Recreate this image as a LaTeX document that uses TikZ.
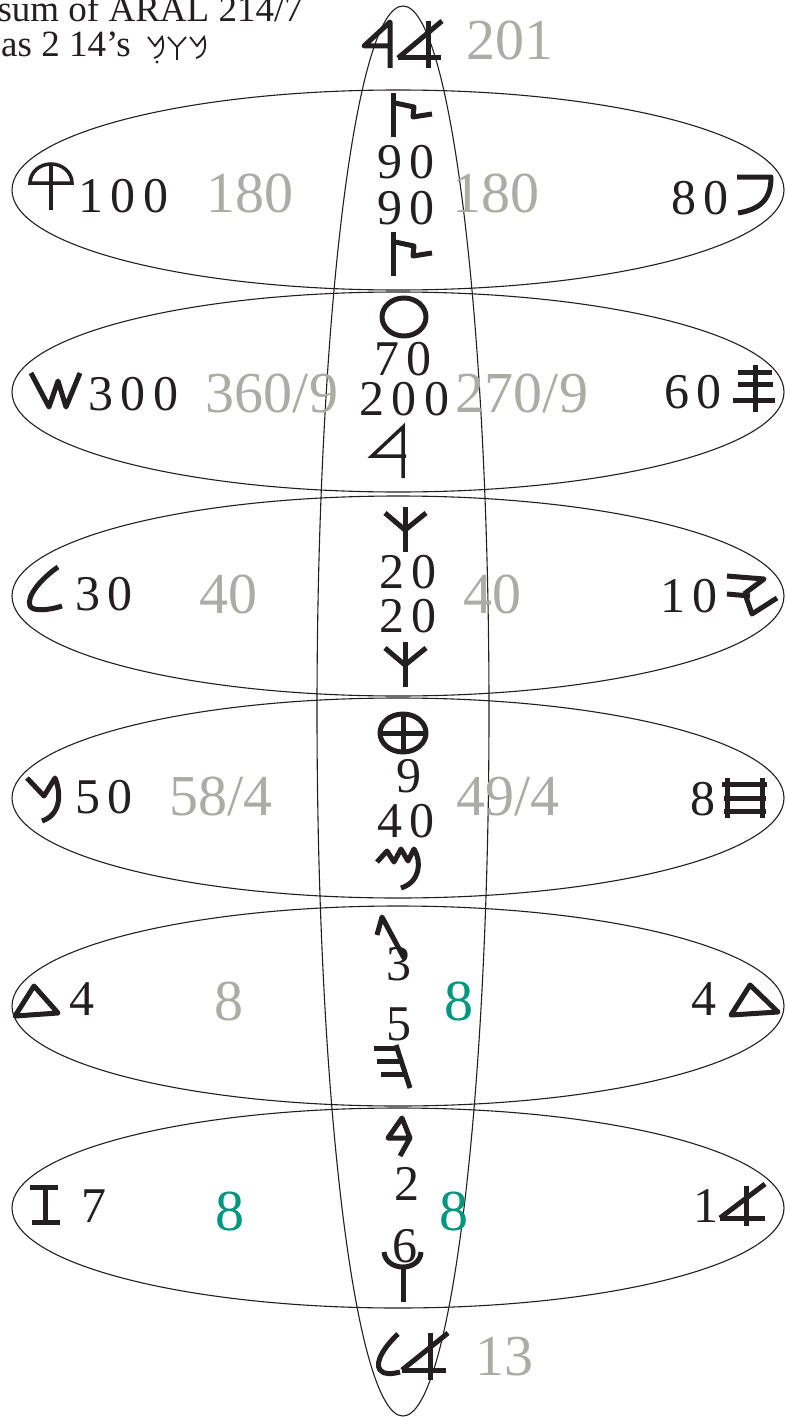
\documentclass[tikz,border=0pt]{standalone}
\usepackage{fontspec}
\setmainfont{Liberation Serif}
\newfontfamily\spacedfont[LetterSpace=15]{Liberation Serif}

\definecolor{ink}{RGB}{35,31,32}
\definecolor{numgray}{RGB}{172,172,167}
\definecolor{numgreen}{RGB}{0,150,128}

\tikzset{
  ring/.style={line width=1.1pt, draw=ink},
  stroke/.style={line width=5pt, draw=ink, line join=round},
  thinstroke/.style={line width=3.5pt, draw=ink},
  penline/.style={line width=1.8pt, draw=ink},
  blacknum/.style={anchor=base, inner sep=0pt, text=ink, text height=0.68em, text depth=0pt,
    font=\spacedfont\fontsize{50}{50}\selectfont},
  graynum/.style={anchor=base, inner sep=0pt, text=numgray, text height=0.68em, text depth=0pt,
    font=\fontsize{58}{58}\selectfont},
  greennum/.style={anchor=base, inner sep=0pt, text=numgreen, text height=0.68em, text depth=0pt,
    font=\fontsize{58}{58}\selectfont},
  caption/.style={inner sep=0pt, text=ink, font=\fontsize{37}{37}\selectfont}
}

\begin{document}
\begin{tikzpicture}[x=1pt,y=-1pt]

\useasboundingbox (0,0) rectangle (785,1418);

% Ellipses
\draw[ring] (403,711) ellipse [x radius=86, y radius=705];
\foreach \cy in {190,392,596,798,1006,1208}
  \draw[ring] (398,\cy) ellipse [x radius=386, y radius=100];

% Caption
\node[caption, anchor=base east] (sumline) at (303,22) {sum of ARAL 214/7};
\node[caption, anchor=base west] (asline) at (1,57) {as 2 14’s};
\draw[penline] (148,37) -- (155,46) -- (162,37) .. controls (165,48) and (162,56) .. (154,58);
\fill[ink] (157,62) circle (1.6);
\draw[penline] (168,37) -- (177,47) -- (186,37);
\draw[penline] (177,47) -- (177,60);
\draw[penline] (190,37) -- (197,46) -- (204,37) .. controls (207,48) and (204,56) .. (196,58);

% Top: resh aleph
\draw[stroke] (390,68) -- (390,22) -- (364,46) -- (392,46);
\draw[stroke] (428,21) -- (428,68);
\draw[stroke] (398,58) -- (441,58);
\draw[stroke] (398,58) -- (442,21);
\node[graynum] (top) at (510,60) {201};

% Row 1
\draw[thinstroke] (30,183) arc[start angle=180, end angle=360, x radius=21, y radius=19] -- cycle;
\draw[thinstroke] (51,164) -- (51,210);
\node[blacknum, anchor=base west] (qoph) at (78,212) {100};
\node[graynum] (leftA) at (250,212) {180};
\foreach \dy in {0,139} {
  \draw[stroke] (393,93+\dy) -- (393,137+\dy);
  \draw[stroke] (395,103+\dy) -- (414,107+\dy) -- (413,117+\dy) -- (432,114+\dy);
}
\node[blacknum] (sadeA) at (406,178) {90};
\node[blacknum] (sadeB) at (406,224) {90};
\node[graynum] (rightA) at (496,212) {180};
\node[blacknum] (pe) at (700,214) {80};
\draw[stroke] (737,177) -- (771,177) .. controls (771,198) and (762,209) .. (738,213);

% Row 2
\draw[stroke] (31,373) -- (49,407) -- (58,381) -- (66,407) -- (80,373);
\node[blacknum, anchor=base west] (shin) at (88,410) {300};
\node[graynum] (leftB) at (272,412) {360/9};
\draw[stroke] (404,317) ellipse [x radius=22, y radius=19];
\node[blacknum] (ayin) at (403,375) {70};
\node[blacknum] (resh) at (404,415) {200};
\draw[thinstroke] (403,478) -- (403,427) -- (372,456) -- (406,456);
\node[graynum] (rightB) at (522,412) {270/9};
\node[blacknum] (samekh) at (693,408) {60};
\draw[stroke] (755,365) -- (755,412);
\draw[stroke] (738,372) -- (772,372);
\draw[stroke] (738,384) -- (773,384);
\draw[stroke] (733,400) -- (775,400);

% Row 3
\draw[stroke] (58,567) .. controls (42,578) and (26,596) .. (30,606) .. controls (33,612) and (50,610) .. (62,606);
\node[blacknum, anchor=base west] (lamed) at (75,610) {30};
\node[graynum] (leftC) at (228,613) {40};
\foreach \dy in {0,135} {
  \draw[stroke] (405,507+\dy) -- (405,552+\dy);
  \draw[stroke] (385,513+\dy) -- (405,530+\dy) -- (426,513+\dy);
}
\node[blacknum] (kaphA) at (408,588) {20};
\node[blacknum] (kaphB) at (408,632) {20};
\node[graynum] (rightC) at (492,613) {40};
\node[blacknum] (yod) at (689,612) {10};
\draw[stroke] (727,576) -- (764,579) -- (744,594);
\draw[stroke] (727,594) -- (750,596);
\draw[stroke] (745,594) -- (752,614) -- (777,598);

% Row 4
\draw[stroke] (27,778) -- (44,796) -- (55,778) .. controls (62,795) and (60,815) .. (42,821);
\node[blacknum, anchor=base west] (nun) at (75,813) {50};
\node[graynum] (leftD) at (221,815) {58/4};
\draw[stroke] (403,733) ellipse [x radius=23, y radius=19];
\draw[stroke] (380,733) -- (426,733);
\draw[stroke] (403,714) -- (403,752);
\node[blacknum] (teth) at (409,792) {9};
\node[blacknum] (mem) at (406,837) {40};
\draw[stroke] (377,862) -- (387,851) -- (394,862) -- (401,849) -- (408,861) -- (414,849) .. controls (422,862) and (420,882) .. (401,888);
\node[graynum] (rightD) at (508,815) {49/4};
\node[blacknum] (heth) at (703,815) {8};
\draw[stroke] (727,778) -- (727,818);
\draw[stroke] (762,778) -- (762,818);
\draw[stroke] (722,784) -- (767,784);
\draw[stroke] (724,798) -- (766,798);
\draw[stroke] (724,811) -- (766,811);

% Row 5
\draw[stroke] (34,986) -- (15,1016) -- (58,1013) -- cycle;
\node[blacknum] (daletA) at (82,1015) {4};
\node[graynum] (leftE) at (229,1020) {8};
\draw[stroke] (377,935) -- (382,917) -- (404,958);
\node[blacknum] (gimel) at (399,980) {3};
\node[greennum] (rightE) at (459,1020) {8};
\node[blacknum] (he) at (399,1040) {5};
\draw[stroke] (396,1045) -- (410,1088);
\draw[stroke] (374,1048) -- (397,1048);
\draw[stroke] (377,1061) -- (401,1061);
\draw[stroke] (381,1074) -- (405,1074);
\node[blacknum] (daletB) at (704,1015) {4};
\draw[stroke] (750,985) -- (731,1015) -- (778,1012) -- cycle;

% Row 6
\draw[stroke] (30,1187) -- (58,1187);
\draw[stroke] (32,1222) -- (60,1222);
\draw[stroke] (45,1187) -- (45,1222);
\node[blacknum] (zayin) at (94,1222) {7};
\node[greennum] (leftF) at (230,1230) {8};
\draw[stroke] (388,1138) -- (402,1118) -- (410,1138) -- cycle;
\draw[stroke] (410,1138) -- (400,1156);
\node[blacknum] (beth) at (407,1200) {2};
\node[greennum] (rightF) at (454,1230) {8};
\node[blacknum] (waw) at (405,1262) {6};
\draw[stroke] (384,1252) .. controls (386,1272) and (420,1272) .. (421,1252);
\draw[stroke] (403,1267) -- (403,1302);
\node[blacknum, anchor=base west] (aleph) at (693,1222) {1};
\draw[stroke] (746,1186) -- (746,1226);
\draw[stroke] (720,1218) -- (765,1218);
\draw[stroke] (720,1218) -- (765,1184);

% Bottom: lamed aleph
\draw[stroke] (398,1334) .. controls (386,1345) and (374,1362) .. (380,1370) .. controls (384,1375) and (392,1374) .. (400,1372);
\draw[stroke] (430,1333) -- (430,1380);
\draw[stroke] (402,1370) -- (446,1370);
\draw[stroke] (402,1370) -- (448,1333);
\node[graynum] (bottom) at (504,1375) {13};

\end{tikzpicture}
\end{document}
